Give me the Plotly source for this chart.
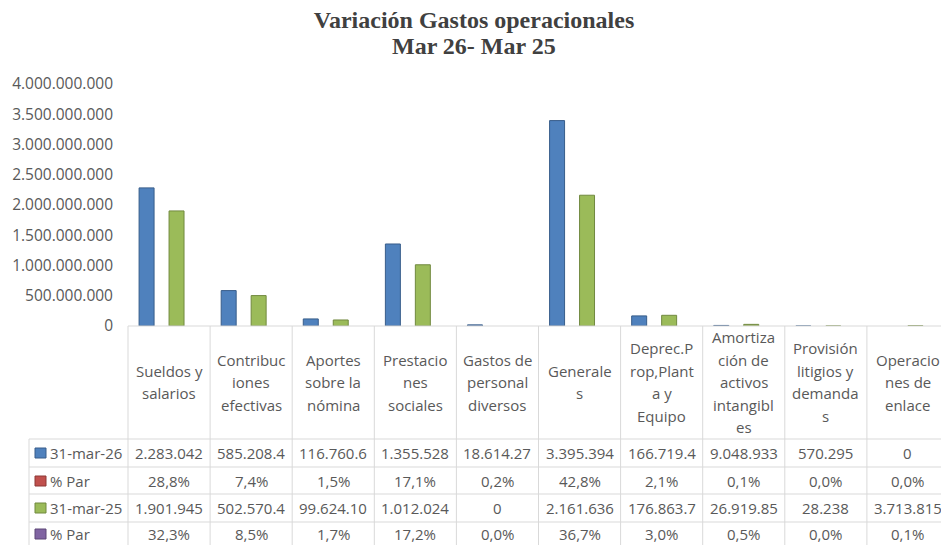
import plotly.graph_objects as go

# ---------------- data ----------------
categories = [
    "Sueldos y salarios", "Contribuciones efectivas", "Aportes sobre la nómina",
    "Prestaciones sociales", "Gastos de personal diversos", "Generales",
    "Deprec.Prop,Planta y Equipo", "Amortización de activos intangibles",
    "Provisión litigios y demandas", "Operaciones de enlace",
]
# header labels as wrapped in the chart's data table
header_labels = [
    "Sueldos y<br>salarios", "Contribuc<br>iones<br>efectivas", "Aportes<br>sobre la<br>nómina",
    "Prestacio<br>nes<br>sociales", "Gastos de<br>personal<br>diversos", "Generale<br>s",
    "Deprec.P<br>rop,Plant<br>a y<br>Equipo", "Amortiza<br>ción de<br>activos<br>intangibl<br>es",
    "Provisión<br>litigios y<br>demanda<br>s", "Operacio<br>nes de<br>enlace",
]
series_names = ["31-mar-26", "% Par", "31-mar-25", "% Par"]
mar26 = [2283042000, 585208400, 116760600, 1355528000, 18614270,
         3395394000, 166719400, 9048933, 570295, 0]
par26 = [28.8, 7.4, 1.5, 17.1, 0.2, 42.8, 2.1, 0.1, 0.0, 0.0]
mar25 = [1901945000, 502570400, 99624100, 1012024000, 0,
         2161636000, 176863700, 26919850, 28238, 3713815]
par25 = [32.3, 8.5, 1.7, 17.2, 0.0, 36.7, 3.0, 0.5, 0.0, 0.1]
y_ticks = [0, 500000000, 1000000000, 1500000000, 2000000000,
           2500000000, 3000000000, 3500000000, 4000000000]
title_line1 = "Variación Gastos operacionales"
title_line2 = "Mar 26- Mar 25"

# ---------------- style ----------------
OX, OY = 8, 8            # page body margin offset
W, H = 949 - OX, 545 - OY
FILL = ["#4F81BD", "#C0504D", "#9BBB59", "#8064A2"]
EDGE = ["#385D8A", "#8C3836", "#71893F", "#5C4776"]
GRID = "#D9D9D9"
TXT = "#595959"
FONT = "Open Sans"
FS = 15


def px(x):
    return (x - OX) / W


def py(y):
    return 1 - (y - OY) / H


def fmt_num(v):
    s = f"{v:,.0f}".replace(",", ".")
    return s[:9]  # cell clipping as in the data table


def fmt_pct(v):
    return f"{v:.1f}%".replace(".", ",")


fig = go.Figure()
series_vals = [mar26, [p / 100 for p in par26], mar25, [p / 100 for p in par25]]
for i, (name, vals) in enumerate(zip(series_names, series_vals)):
    if i in (0, 2):
        lw = [0 if v == 0 else 1 for v in vals]   # zero bars are not drawn
    else:
        lw = 0
    fig.add_trace(go.Bar(
        x=categories, y=vals, name=name,
        marker=dict(color=FILL[i], line=dict(color=EDGE[i], width=lw)),
        showlegend=False,
    ))

X0, X1 = 128, 949
Y0, YT = 326, 84
fig.update_layout(
    width=W, height=H,
    margin=dict(l=0, r=0, t=0, b=0, autoexpand=False),
    paper_bgcolor="white", plot_bgcolor="white",
    barmode="group", bargap=0.27, bargroupgap=0,
    separators=",.",
    title=dict(
        text=title_line1,
        x=px(474), xanchor="center", y=py(20), yanchor="middle", yref="paper",
        font=dict(family="Liberation Serif", size=24, color="#404040", weight="bold"),
    ),
    xaxis=dict(domain=[px(X0), px(X1)], showticklabels=False, ticks="",
               showgrid=False, showline=False, zeroline=False, fixedrange=True),
    yaxis=dict(domain=[py(Y0), py(YT)], range=[0, 4000000000],
               tickvals=y_ticks, tickformat=",d", showgrid=False, zeroline=False,
               showline=False, ticks="", ticklabelstandoff=14,
               tickfont=dict(family=FONT, size=15.5, color=TXT)),
)

shapes = []
line = dict(color=GRID, width=1)
# top (axis) line
shapes.append(dict(type="line", xref="paper", yref="paper",
                   x0=px(X0), x1=px(X1), y0=py(Y0), y1=py(Y0), line=line))
# row lines
row_bounds = [439, 467, 494, 522, 549]
for yb in row_bounds:
    shapes.append(dict(type="line", xref="paper", yref="paper",
                       x0=px(29), x1=px(X1), y0=py(yb), y1=py(yb), line=line))
# column lines
n = len(categories)
cw = (X1 - X0) / n
for k in range(n + 1):
    xx = X0 + k * cw
    shapes.append(dict(type="line", xref="paper", yref="paper",
                       x0=px(xx), x1=px(xx), y0=py(Y0), y1=py(560), line=line))
shapes.append(dict(type="line", xref="paper", yref="paper",
                   x0=px(29), x1=px(29), y0=py(439), y1=py(560), line=line))

annotations = [dict(text=title_line2, xref="paper", yref="paper",
                    x=px(474), y=py(46), xanchor="center", yanchor="middle",
                    showarrow=False,
                    font=dict(family="Liberation Serif", size=24, color="#404040",
                              weight="bold"))]
row_centers = [453, 481, 508, 534]
for r, yc in enumerate(row_centers):
    # legend key
    shapes.append(dict(type="rect", xref="paper", yref="paper",
                       x0=px(35), x1=px(46), y0=py(yc + 5), y1=py(yc - 5),
                       fillcolor=FILL[r], line=dict(color=EDGE[r], width=1)))
    annotations.append(dict(text=series_names[r], xref="paper", yref="paper",
                            x=px(48), y=py(yc), xanchor="left", yanchor="middle",
                            showarrow=False, font=dict(family=FONT, size=FS, color=TXT)))

rows_text = [
    [fmt_num(v) for v in mar26],
    [fmt_pct(v) for v in par26],
    [fmt_num(v) for v in mar25],
    [fmt_pct(v) for v in par25],
]
for r, yc in enumerate(row_centers):
    for k in range(n):
        annotations.append(dict(text=rows_text[r][k], xref="paper", yref="paper",
                                x=px(X0 + (k + 0.5) * cw), y=py(yc),
                                xanchor="center", yanchor="middle", showarrow=False,
                                font=dict(family=FONT, size=FS, color=TXT)))

# header cells (each wrapped line placed separately, Excel line spacing)
LS = 22.5
hc = 382
for k, lab in enumerate(header_labels):
    parts = lab.split("<br>")
    m = len(parts)
    for j, p in enumerate(parts):
        yc = hc + (j - (m - 1) / 2) * LS
        annotations.append(dict(text=p, xref="paper", yref="paper",
                                x=px(X0 + (k + 0.5) * cw), y=py(yc),
                                xanchor="center", yanchor="middle", showarrow=False,
                                font=dict(family=FONT, size=FS, color=TXT)))

fig.update_layout(shapes=shapes, annotations=annotations)
fig.write_html("out.html")
